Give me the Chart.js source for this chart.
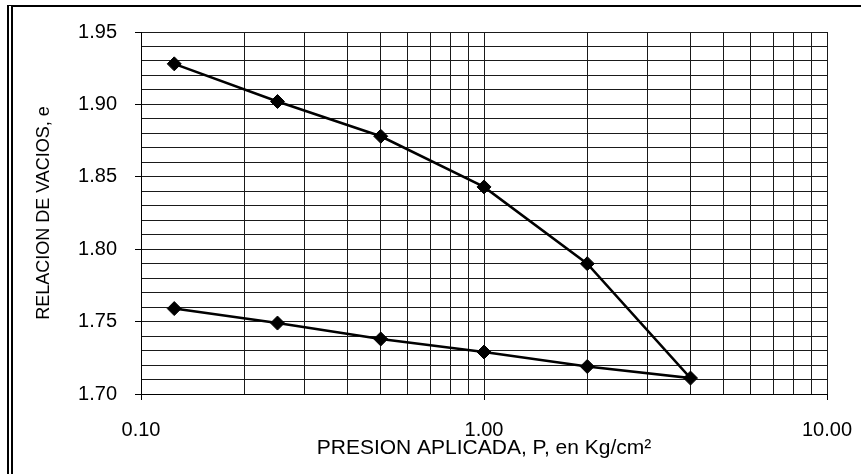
<!DOCTYPE html>
<html>
<head>
<meta charset="utf-8">
<script src="https://cdn.jsdelivr.net/npm/chart.js@4.4.1/dist/chart.umd.min.js"></script>
<style>
  html, body { margin: 0; padding: 0; background: #fff; }
  #wrap { position: relative; width: 861px; height: 474px; }
  /* outer frame: line on top, double line on the left */
  #frame {
    position: absolute; left: 7px; top: 5px; right: 0; bottom: 0;
    border-top: 2px solid #000; border-left: 6px double #000;
  }
  canvas { position: absolute; left: 0; top: 0; }
</style>
</head>
<body>
<div id="wrap">
  <div id="frame"></div>
  <canvas id="chart" width="861" height="474"></canvas>
</div>
<script>
// Consolidation test: loading then unloading
const pressures  = [0.125, 0.25, 0.5, 1, 2, 4, 2, 1, 0.5, 0.25, 0.125];
const voidRatios = [1.928, 1.902, 1.878, 1.843, 1.790, 1.711, 1.719, 1.729, 1.738, 1.749, 1.759];

// vertical grid lines (log paper)
const xGridValues = [0.1, 0.2, 0.3, 0.4, 0.5, 0.6, 0.7, 0.8, 0.9,
                     1, 2, 3, 4, 5, 6, 7, 8, 9, 10];
const xLabelValues = [0.1, 1, 10];
const yMin = 1.70, yMax = 1.95, yStep = 0.01, yLabelStep = 0.05;

const FONT = "'Liberation Sans', Arial, sans-serif";
const GRID = '#1a1a1a';

const isYLabel = v => Math.abs(Math.round(v / yLabelStep) * yLabelStep - v) < 1e-6;
const isXLabel = v => xLabelValues.some(d => Math.abs(d - v) < 1e-9);

new Chart(document.getElementById('chart').getContext('2d'), {
  type: 'scatter',
  data: {
    datasets: [{
      data: pressures.map((p, i) => ({ x: p, y: voidRatios[i] })),
      showLine: true,
      borderColor: '#000',
      borderWidth: 2.5,
      pointStyle: 'rectRot',
      pointRadius: 7,
      pointBackgroundColor: '#000',
      pointBorderColor: '#000',
      pointBorderWidth: 1,
    }],
  },
  options: {
    responsive: false,
    animation: false,
    layout: { padding: { left: 0, right: 34, top: 32, bottom: 0 } },
    plugins: { legend: { display: false }, tooltip: { enabled: false } },
    scales: {
      x: {
        type: 'logarithmic',
        min: 0.1,
        max: 10,
        afterBuildTicks: s => { s.ticks = xGridValues.map(v => ({ value: v })); },
        afterFit: s => { s.height = 80; s.paddingRight = 0; s.paddingLeft = 0; },
        border: { color: '#000', width: 1 },
        grid: {
          color: GRID,
          lineWidth: 1,
          tickLength: 6,
          tickColor: c => (c.tick && isXLabel(c.tick.value)) ? '#000' : 'rgba(0,0,0,0)',
        },
        ticks: {
          autoSkip: false,
          maxRotation: 0,
          padding: 18,
          color: '#000',
          font: { family: FONT, size: 20 },
          callback: v => isXLabel(v) ? Number(v).toFixed(2) : '',
        },
        title: {
          display: true,
          text: 'PRESION APLICADA, P, en Kg/cm²',
          color: '#000',
          font: { family: FONT, size: 21 },
          padding: { top: 0, bottom: 13 },
        },
      },
      y: {
        min: yMin,
        max: yMax,
        ticks: {
          stepSize: yStep,
          autoSkip: false,
          padding: 18,
          color: '#000',
          font: { family: FONT, size: 20 },
          callback: v => isYLabel(v) ? Number(v).toFixed(2) : '',
        },
        afterFit: s => { s.width = 141; },
        border: { color: '#000', width: 1 },
        grid: {
          color: GRID,
          lineWidth: 1,
          tickLength: 6,
          tickColor: c => (c.tick && isYLabel(c.tick.value)) ? '#000' : 'rgba(0,0,0,0)',
        },
        title: {
          display: true,
          text: 'RELACION DE VACIOS, e',
          color: '#000',
          font: { family: FONT, size: 18 },
          padding: { top: 33, bottom: 0 },
        },
      },
    },
  },
});
</script>
</body>
</html>
